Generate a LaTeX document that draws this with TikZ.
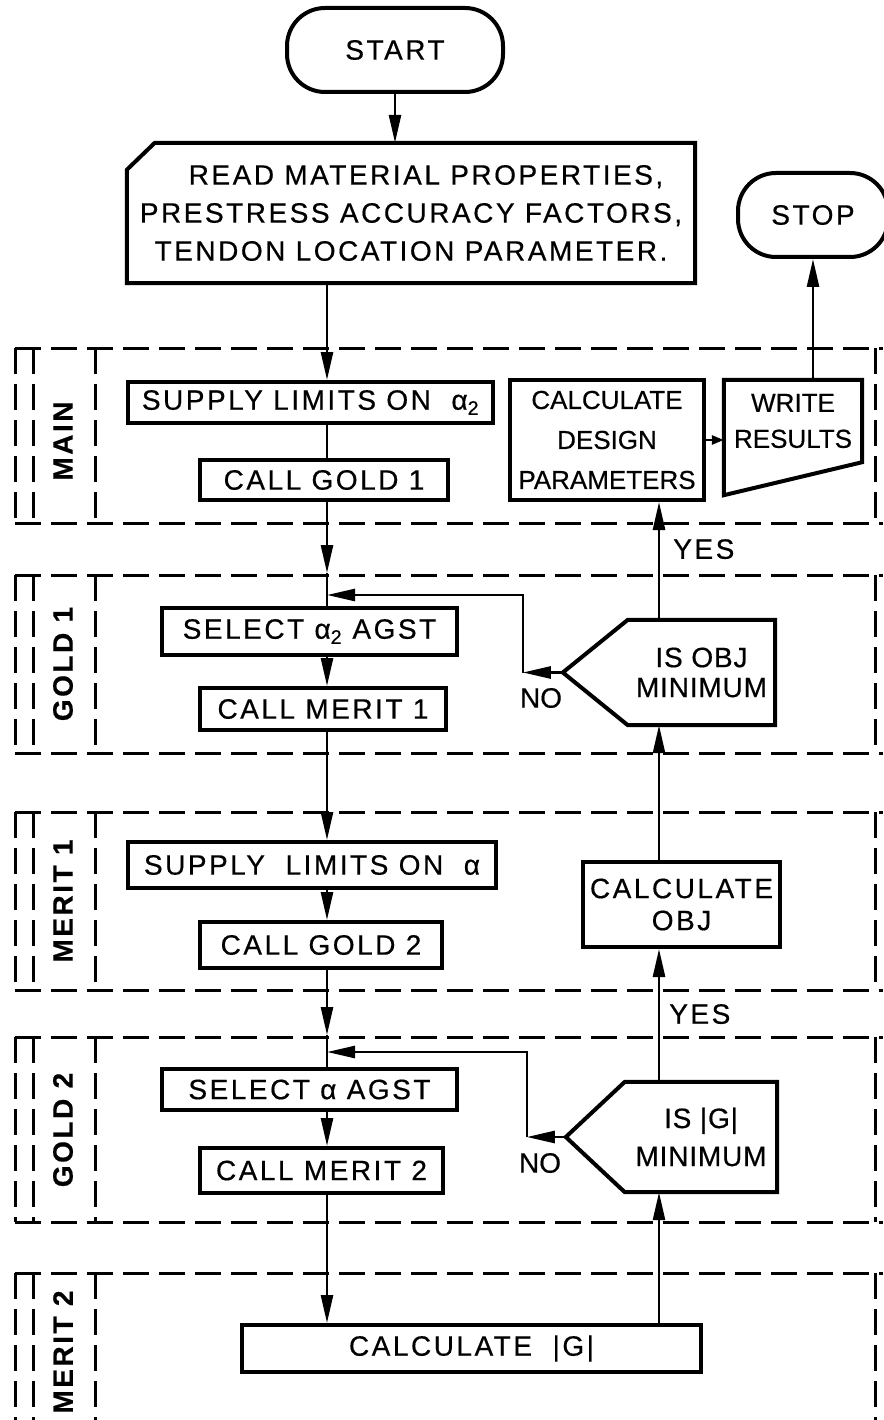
\documentclass[tikz,border=0pt]{standalone}
\usepackage{fontspec}
\setmainfont{Liberation Sans}[LetterSpace=9, FakeBold=0.5]
\usetikzlibrary{arrows.meta}

\tikzset{
  box/.style={draw, line width=4pt, inner sep=0pt, align=center},
  shapebox/.style={inner sep=0pt, align=center},
  outline/.style={line width=4pt},
  arr/.style={line width=2.6pt, -{Triangle[length=28pt,width=12pt]}},
  link/.style={line width=2.6pt},
  frame/.style={line width=3pt, dash pattern=on 26pt off 10pt},
  modname/.style={rotate=90, inner sep=0pt, font=\bfseries\fontsize{28}{30}\selectfont},
  tight/.style={font=\addfontfeature{LetterSpace=0}\fontsize{26}{40}\selectfont},
}

\begin{document}
\begin{tikzpicture}[x=1pt,y=-1pt,font=\fontsize{28}{36}\selectfont]
  \useasboundingbox (0,0) rectangle (883,1420);
  % the two flow columns
  \coordinate (lcol) at (327,0);
  \coordinate (rcol) at (659,0);

  % Module frames with their names
  \foreach \top/\bot/\mid/\name in {348/523/441/MAIN, 575/753/664/GOLD 1,
      812/990/901/MERIT 1, 1037/1222/1130/GOLD 2} {
    \draw[frame] (15,\top) -- (883,\top);
    \draw[frame] (15,\bot) -- (883,\bot);
    \foreach \x in {15,33,95,875}
      \draw[frame] (\x,\top) -- (\x,\bot);
    \node[modname] (mod\top) at (63,\mid) {\name};
  }
  \draw[frame] (15,1273) -- (883,1273);
  \foreach \x in {15,33,95,875}
    \draw[frame] (\x,1273) -- (\x,1420);
  \node[modname] (mod1273) at (63,1352) {MERIT 2};

  % Start, input card, stop
  \node[box, rounded corners=38pt, minimum width=216pt, minimum height=84pt] (start) at (395,50) {START};
  \node[box, rounded corners=38pt, minimum width=150pt, minimum height=84pt] (stop) at (813,215) {STOP};
  \node[shapebox, minimum width=568pt, minimum height=140pt, font=\fontsize{28}{38}\selectfont] (read) at (411,213)
    {\hspace*{30pt}READ MATERIAL PROPERTIES,\\PRESTRESS ACCURACY FACTORS,\\TENDON LOCATION PARAMETER.};
  \draw[outline] ([xshift=28pt]read.north west) -- (read.north east) -- (read.south east)
    -- (read.south west) -- ([yshift=-27pt]read.north west) -- cycle;

  % MAIN
  \node[box, minimum width=365pt, minimum height=41pt] (supply1) at (310.5,402.5) {SUPPLY LIMITS ON \ α\textsubscript{2}};
  \node[box, minimum width=248pt, minimum height=40pt] (callgold1) at (324,480) {CALL GOLD 1};
  \node[box, tight, minimum width=194pt, minimum height=120pt] (calcdes) at (607,440) {CALCULATE\\DESIGN\\PARAMETERS};
  \node[shapebox, font=\addfontfeature{LetterSpace=0}\fontsize{26}{36}\selectfont, minimum width=138pt, minimum height=82pt] (write) at (793,421) {WRITE\\RESULTS};
  \draw[outline] (write.north west) -- (write.north east) -- (write.south east)
    -- ([yshift=-33pt]write.south west) -- cycle;

  % GOLD 1
  \node[box, minimum width=295pt, minimum height=47pt] (select1) at (309.5,631.5) {SELECT α\textsubscript{2} AGST};
  \node[box, minimum width=246pt, minimum height=42pt] (callmerit1) at (323,709) {CALL MERIT 1};
  \node[shapebox, font=\addfontfeature{LetterSpace=3}\fontsize{28}{30}\selectfont, minimum width=147pt, minimum height=105pt] (isobj) at (701.5,672.5) {IS OBJ\\MINIMUM};
  \coordinate (isobjtip) at ([xshift=-65pt]isobj.west);
  \draw[outline] (isobj.north west) -- (isobj.north east) -- (isobj.south east)
    -- (isobj.south west) -- (isobjtip) -- cycle;

  % MERIT 1
  \node[box, minimum width=368pt, minimum height=46pt] (supply2) at (312,865) {SUPPLY \ LIMITS ON \ α};
  \node[box, minimum width=242pt, minimum height=46pt] (callgold2) at (321,945) {CALL GOLD 2};
  \node[box, font=\fontsize{28}{32}\selectfont, minimum width=197pt, minimum height=85pt] (calcobj) at (681.5,904.5) {CALCULATE\\OBJ};

  % GOLD 2
  \node[box, minimum width=295pt, minimum height=41pt] (select2) at (309.5,1089.5) {SELECT α AGST};
  \node[box, minimum width=243pt, minimum height=45pt] (callmerit2) at (321.5,1170.5) {CALL MERIT 2};
  \node[shapebox, font=\addfontfeature{LetterSpace=3}\fontsize{28}{38}\selectfont, minimum width=152pt, minimum height=110pt] (isg) at (701,1137) {IS |G|\\MINIMUM};
  \coordinate (isgtip) at ([xshift=-59pt]isg.west);
  \draw[outline] (isg.north west) -- (isg.north east) -- (isg.south east)
    -- (isg.south west) -- (isgtip) -- cycle;

  % MERIT 2
  \node[box, minimum width=459pt, minimum height=47pt] (calcg) at (471.5,1348.5) {CALCULATE \ |G|};

  % Downward flow
  \coordinate (g1in) at (327,573);
  \coordinate (g2in) at (327,1035);
  \draw[arr] (start) -- (start |- read.north);
  \draw[arr] (read.south -| lcol) -- (supply1.north -| lcol);
  \draw[link] (supply1.south -| lcol) -- (callgold1.north -| lcol);
  \draw[arr] (callgold1.south -| lcol) -- (g1in);
  \draw[link] (g1in) -- (select1.north -| lcol);
  \draw[arr] (select1.south -| lcol) -- (callmerit1.north -| lcol);
  \draw[arr] (callmerit1.south -| lcol) -- (supply2.north -| lcol);
  \draw[arr] (supply2.south -| lcol) -- (callgold2.north -| lcol);
  \draw[arr] (callgold2.south -| lcol) -- (g2in);
  \draw[link] (g2in) -- (select2.north -| lcol);
  \draw[arr] (select2.south -| lcol) -- (callmerit2.north -| lcol);
  \draw[arr] (callmerit2.south -| lcol) -- (calcg.north -| lcol);

  % Upward flow
  \draw[arr] (calcg.north -| rcol) -- (isg.south -| rcol);
  \draw[arr] (isg.north -| rcol) -- (calcobj.south -| rcol)
    node[pos=0.51, right=9pt, inner sep=0pt] (yes2) {YES};
  \draw[arr] (calcobj.north -| rcol) -- (isobj.south -| rcol);
  \draw[arr] (isobj.north -| rcol) -- (calcdes.south -| rcol)
    node[pos=0.6, right=13pt, inner sep=0pt] (yes1) {YES};
  \draw[line width=2.6pt, -{Triangle[length=12pt,width=9pt]}] (calcdes.east) -- (calcdes.east -| write.west);
  \draw[arr] (write.north -| stop.south) -- (stop.south);

  % NO: back to the select step
  \coordinate (no1) at ([xshift=-40pt]isobjtip);
  \coordinate (j1) at (327,595);
  \draw[arr] (isobjtip) -- (no1);
  \draw[arr] (no1) |- (j1);
  \node[inner sep=0pt, font=\addfontfeature{LetterSpace=0}\fontsize{28}{30}\selectfont] (no1lbl) at (541,698) {NO};
  \coordinate (no2) at ([xshift=-39pt]isgtip);
  \coordinate (j2) at (327,1052);
  \draw[arr] (isgtip) -- (no2);
  \draw[arr] (no2) |- (j2);
  \node[inner sep=0pt, font=\addfontfeature{LetterSpace=0}\fontsize{28}{30}\selectfont] (no2lbl) at (540,1163) {NO};
\end{tikzpicture}
\end{document}
